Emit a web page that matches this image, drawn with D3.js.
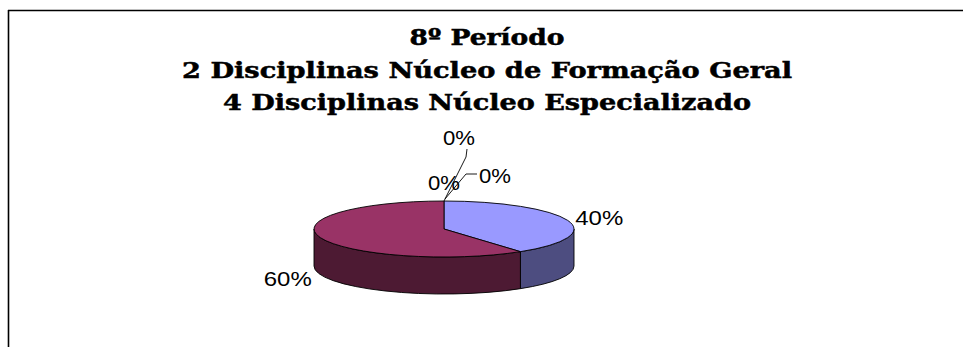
<!DOCTYPE html>
<html>
<head>
<meta charset="utf-8">
<script src="https://cdn.jsdelivr.net/npm/d3@7"></script>
<style>
html,body{margin:0;padding:0;background:#fff;}
svg{display:block;}
</style>
</head>
<body>
<svg id="chart" width="963" height="347"></svg>
<script>
// ---- data ----
const titleLines = ["8º Período", "2 Disciplinas Núcleo de Formação Geral", "4 Disciplinas Núcleo Especializado"];
const categories = ["Núcleo de Formação Geral", "Núcleo Especializado", "Outro A", "Outro B", "Outro C"];
const values = [40, 60, 0, 0, 0];
const labels = ["40%", "60%", "0%", "0%", "0%"];
const topColors = ["#9999FF", "#993366", "#FFFFCC", "#CCFFFF", "#660066"];
const sideColors = ["#4D4D80", "#4D1A33", "#80806A", "#6A8080", "#330033"];

// ---- layout ----
const svg = d3.select("#chart");
const W = 963, H = 347;

// frame
svg.append("line").attr("x1", 8).attr("y1", 10.5).attr("x2", W).attr("y2", 10.5)
  .attr("stroke", "#000").attr("stroke-width", 1.6);
svg.append("line").attr("x1", 8.5).attr("y1", 10).attr("x2", 8.5).attr("y2", H)
  .attr("stroke", "#000").attr("stroke-width", 1.6);

// title
const titleX = 487;
const titleBase = [45, 78, 110];
const titleWidths = [155, 610, 528];
titleLines.forEach((t, i) => {
  svg.append("text")
    .attr("x", titleX).attr("y", titleBase[i])
    .attr("text-anchor", "middle")
    .attr("font-family", "'DejaVu Serif', serif")
    .attr("font-weight", "bold")
    .attr("font-size", 22)
    .attr("textLength", titleWidths[i])
    .attr("lengthAdjust", "spacingAndGlyphs")
    .attr("fill", "#000")
    .attr("stroke", "#000").attr("stroke-width", 0.5)
    .text(t);
});

// pie geometry
const cx = 444, cy = 229, rx = 130, ry = 28, depth = 37;
const pie = d3.pie().sort(null).value(d => d)(values);
const angle = d3.scaleLinear().domain([0, 2 * Math.PI]).range([0, 2 * Math.PI]);
const pt = (a, dy = 0) => [cx + rx * Math.sin(angle(a)), cy - ry * Math.cos(angle(a)) + dy];

// side walls (front half: PI/2 .. 3PI/2)
const g = svg.append("g");
pie.forEach((s, i) => {
  const a0 = Math.max(s.startAngle, Math.PI / 2);
  const a1 = Math.min(s.endAngle, 3 * Math.PI / 2);
  if (a1 <= a0) return;
  const p0 = pt(a0), p1 = pt(a1), q1 = pt(a1, depth), q0 = pt(a0, depth);
  const large = (a1 - a0) > Math.PI ? 1 : 0;
  const d = `M${p0[0]},${p0[1]} A${rx},${ry} 0 ${large} 1 ${p1[0]},${p1[1]} L${q1[0]},${q1[1]} A${rx},${ry} 0 ${large} 0 ${q0[0]},${q0[1]} Z`;
  g.append("path").attr("d", d).attr("fill", sideColors[i])
    .attr("stroke", "#000").attr("stroke-width", 0.9).attr("stroke-linejoin", "round");
});

// top faces
pie.forEach((s, i) => {
  if (s.endAngle - s.startAngle <= 0) return;
  const p0 = pt(s.startAngle), p1 = pt(s.endAngle);
  const large = (s.endAngle - s.startAngle) > Math.PI ? 1 : 0;
  const d = `M${cx},${cy} L${p0[0]},${p0[1]} A${rx},${ry} 0 ${large} 1 ${p1[0]},${p1[1]} Z`;
  g.append("path").attr("d", d).attr("fill", topColors[i])
    .attr("stroke", "#000").attr("stroke-width", 0.9).attr("stroke-linejoin", "round");
});

// labels
const lblFont = "'Liberation Sans', Arial, sans-serif";
const lg = svg.append("g");
let zeroIdx = 0;
// offsets for stacked zero-value labels (label anchor, leader path) relative to the slice point
const zeroLayout = [
  { tx: 15, ty: -56, anchor: "middle", path: [[0, 0], [22, -44], [23, -52]] },
  { tx: -16, ty: -11, anchor: "start", path: null },
  { tx: 35, ty: -18, anchor: "start", path: [[1, -2], [22, -27], [33, -27]] }
];
pie.forEach((s, i) => {
  const m = (s.startAngle + s.endAngle) / 2;
  if (values[i] > 0) {
    const sx = Math.sin(m), cz = Math.cos(m);
    const x = cx + (rx + 8) * sx;
    const y = cy - (ry + 8) * cz + 7 + (cz < 0 ? depth + 2 : 0);
    lg.append("text").attr("x", x + (sx >= 0 ? 0 : -1)).attr("y", y)
      .attr("text-anchor", sx >= 0 ? "start" : "end")
      .attr("font-family", lblFont).attr("font-size", 21)
      .attr("textLength", 48).attr("lengthAdjust", "spacingAndGlyphs")
      .text(labels[i]);
  } else {
    const base = pt(m);
    const L = zeroLayout[zeroIdx++ % zeroLayout.length];
    if (L.path) {
      lg.append("path")
        .attr("d", d3.line()(L.path.map(p => [base[0] + p[0], base[1] + p[1]])))
        .attr("fill", "none").attr("stroke", "#000").attr("stroke-width", 0.9);
    }
    lg.append("text").attr("x", base[0] + L.tx).attr("y", base[1] + L.ty)
      .attr("text-anchor", L.anchor)
      .attr("font-family", lblFont).attr("font-size", 21)
      .attr("textLength", 32).attr("lengthAdjust", "spacingAndGlyphs")
      .text(labels[i]);
  }
});
</script>
</body>
</html>
